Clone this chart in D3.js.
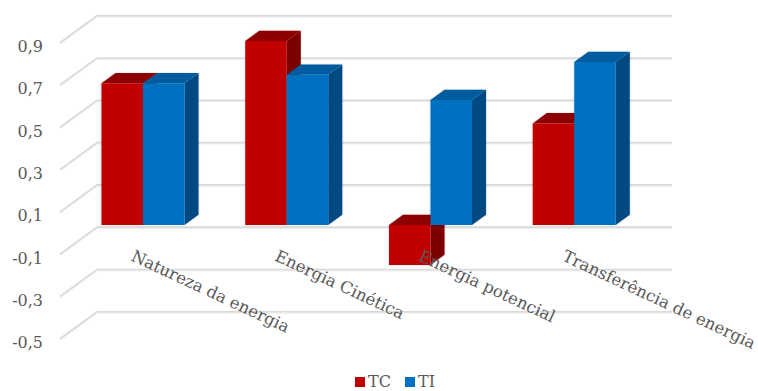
<!DOCTYPE html>
<html>
<head>
<meta charset="utf-8">
<script src="https://cdn.jsdelivr.net/npm/d3@7"></script>
<style>
  html, body { margin: 0; padding: 0; background: #fff; }
  svg { display: block; }
  text { font-family: "DejaVu Serif", Georgia, serif; fill: #595959; }
</style>
</head>
<body>
<svg id="chart" width="758" height="391"></svg>
<script>
// Categories, series and axis ticks
const categories = ["Natureza da energia", "Energia Cinética", "Energia potencial", "Transferência de energia"];
const seriesNames = ["TC", "TI"];
const tcValues = [0.67, 0.87, -0.19, 0.48];
const tiValues = [0.67, 0.71, 0.59, 0.77];
const tickValues = [0.9, 0.7, 0.5, 0.3, 0.1, -0.1, -0.3, -0.5];

const colors = {
  TC: { front: "#c00000", top: "#8e0000", side: "#7c0000" },
  TI: { front: "#0070c0", top: "#005c9f", side: "#004a82" }
};

const svg = d3.select("#chart");

// Oblique 3D projection: floor x offset, depth offset
const originX = 60;          // front-left corner of the plot
const floorWidth = 575;
const depthDX = 37, depthDY = -27;   // full depth shift
const barDepth0 = 0.3, barDepth1 = 0.68;

const y = d3.scaleLinear().domain([-0.5, 0.9]).range([338.75, 42.65]);
const x0 = d3.scaleBand().domain(categories).range([0, floorWidth])
  .paddingInner(0.4226).paddingOuter(0.2113);
const x1 = d3.scaleBand().domain(seriesNames).range([0, x0.bandwidth()]);

function proj(u, v, d) {
  return [originX + u + depthDX * d, y(v) + depthDY * d];
}

// Gridlines: side wall diagonal + back wall horizontal
const grid = svg.append("g");
tickValues.forEach(v => {
  const pts = [proj(0, v, 0), proj(0, v, 1), proj(floorWidth, v, 1)];
  grid.append("polyline")
    .attr("points", pts.map(p => [p[0], p[1] + 1.2].join(",")).join(" "))
    .attr("fill", "none").attr("stroke", "#efefef").attr("stroke-width", 1.5);
  grid.append("polyline")
    .attr("points", pts.map(p => p.join(",")).join(" "))
    .attr("fill", "none").attr("stroke", "#d9d9d9").attr("stroke-width", 1.6);
});

// Y-axis labels
svg.append("g").selectAll("text").data(tickValues).join("text")
  .attr("x", 43).attr("y", v => y(v) + 4)
  .attr("text-anchor", "end").attr("dominant-baseline", "central")
  .attr("font-size", 16)
  .text(v => d3.format(".1f")(v).replace(".", ",").replace("−", "-"));

// 3D bars
const defs = svg.append("defs");
const f = defs.append("filter").attr("id", "soft").attr("x", "-10%").attr("y", "-10%").attr("width", "130%").attr("height", "130%");
f.append("feDropShadow").attr("dx", 0).attr("dy", 0).attr("stdDeviation", 0.8)
  .attr("flood-color", "#000").attr("flood-opacity", 0.18);

const bars = svg.append("g");
const seriesData = { TC: tcValues, TI: tiValues };
categories.forEach((cat, i) => {
  seriesNames.forEach(s => {
    const v = seriesData[s][i];
    const c = colors[s];
    const uL = x0(cat) + x1(s), uR = uL + x1.bandwidth();
    const vTop = Math.max(0, v), vBot = Math.min(0, v);
    const g = bars.append("g").attr("filter", "url(#soft)");
    const poly = (pts, fill) => g.append("polygon")
      .attr("points", pts.map(p => p.join(",")).join(" ")).attr("fill", fill);
    // side face
    poly([proj(uR, vTop, barDepth0), proj(uR, vTop, barDepth1), proj(uR, vBot, barDepth1), proj(uR, vBot, barDepth0)], c.side);
    // top face
    poly([proj(uL, vTop, barDepth0), proj(uL, vTop, barDepth1), proj(uR, vTop, barDepth1), proj(uR, vTop, barDepth0)], c.top);
    // front face
    poly([proj(uL, vTop, barDepth0), proj(uR, vTop, barDepth0), proj(uR, vBot, barDepth0), proj(uL, vBot, barDepth0)], c.front);
  });
});

// Category labels, rotated
svg.append("g").selectAll("text").data(categories).join("text")
  .attr("transform", d => {
    const p = proj(x0(d) + x0.bandwidth() / 2, 0, 0);
    return `translate(${p[0] - 2},${p[1] + 27}) rotate(25)`;
  })
  .attr("font-size", 16.5)
  .text(d => d);

// Legend
const legend = svg.append("g");
const legendItems = [{ name: "TC", x: 355 }, { name: "TI", x: 405 }];
legendItems.forEach(it => {
  legend.append("rect").attr("x", it.x).attr("y", 377).attr("width", 10).attr("height", 10)
    .attr("fill", colors[it.name].front);
  legend.append("text").attr("x", it.x + 13).attr("y", 387).attr("font-size", 16).text(it.name);
});
</script>
</body>
</html>
